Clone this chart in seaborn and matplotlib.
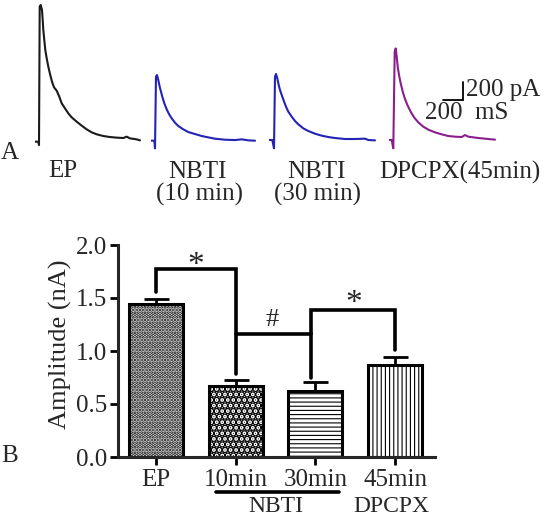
import numpy as np
import pandas as pd
import seaborn as sns
import matplotlib.pyplot as plt

# ---------------- Panel B : mean amplitude (nA) ----------------
conditions = ["EP", "10min", "30min", "45min"]
amplitude = [1.44, 0.67, 0.625, 0.87]
sem = [0.05, 0.06, 0.08, 0.075]
hatches = [".....", "...", "----", "||||"]
hatch_lw = [1.8, 3.6, 0.8, 0.8]

# ---------------- Panel A : example currents (ms, pA) ----------------
ep_t = [0, 33, 40, 47, 57, 70, 77, 83, 93, 103, 117, 133, 150, 170, 190, 217, 243, 267,
        300, 333, 367, 417, 467, 517, 567, 617, 683, 750, 817, 883, 917, 950, 1017, 1050]
ep_i = [0, 0, -37, 1499, 1517, 1462, 1351, 1240, 1129, 1018, 925, 833, 752, 666, 604, 566,
        500, 426, 370, 315, 270, 222, 178, 137, 104, 82, 63, 52, 45, 41, 56, 37, 26, 15]

nbti10_t = [0, 33, 40, 50, 60, 73, 87, 100, 113, 133, 157, 180, 207, 240, 273, 323, 373,
            440, 507, 573, 640, 740, 840, 907, 973, 1040]
nbti10_i = [0, 0, -85, 711, 729, 674, 600, 544, 489, 415, 348, 296, 248, 200, 163, 126, 96,
            74, 52, 37, 22, 11, 7, 15, 4, 0]

nbti30_t = [0, 33, 50, 60, 70, 83, 97, 110, 127, 147, 170, 193, 227, 260, 293, 343, 393,
            460, 527, 593, 660, 760, 860, 960, 993, 1060]
nbti30_i = [0, 0, -92, 703, 733, 685, 611, 555, 500, 437, 370, 315, 259, 211, 174, 129, 100,
            70, 48, 33, 22, 11, 11, 15, 0, -4]

dpcpx_t = [0, 27, 43, 57, 67, 77, 87, 100, 117, 137, 160, 187, 217, 253, 293, 343, 393,
           460, 527, 593, 660, 727, 760, 793, 893, 993, 1060]
dpcpx_i = [0, 0, -92, 980, 1017, 925, 814, 722, 629, 537, 455, 381, 314, 248, 196, 148, 115,
           85, 63, 44, 37, 33, 55, 37, 22, 11, 4]

traces = [(ep_t, ep_i, "#1a1a1a"),
          (nbti10_t, nbti10_i, "#2323b8"),
          (nbti30_t, nbti30_i, "#2323b8"),
          (dpcpx_t, dpcpx_i, "#8a1e8c")]

sns.set_theme(style="ticks")
plt.rcParams["font.family"] = ["Liberation Serif", "DejaVu Serif"]

W, H = 550, 532
fig = plt.figure(figsize=(W / 100, H / 100), dpi=100)


def fx(x):
    return x / W


def fy(y):
    return 1 - y / H


# trace layout (pixels)
trace_left = [35, 151, 269, 389]
trace_base = [141.7, 140.7, 140, 140]
ms_px, pa_px = 10.0, 11.1
t_lim, i_lim = (0, 1100), (-150, 1560)

trace_axes = []
for (t, i, c), left, base in zip(traces, trace_left, trace_base):
    h = (i_lim[1] - i_lim[0]) / pa_px
    w = (t_lim[1] - t_lim[0]) / ms_px
    bottom = base - i_lim[0] / pa_px
    a = fig.add_axes([fx(left), fy(bottom), w / W, h / H])
    sns.lineplot(x=t, y=i, ax=a, color=c, lw=1.5, sort=False)
    a.set_xlim(t_lim)
    a.set_ylim(i_lim)
    a.axis("off")
    trace_axes.append(a)

# scale bar: 200 ms x 200 pA
sb = trace_axes[-1]
sb.plot([540, 740], [444, 444], color="black", lw=1.3)
sb.plot([740, 740], [444, 644], color="black", lw=1.3)

fs_a = 18
fig.text(fx(466), fy(90), "200 pA", fontsize=fs_a, ha="left", va="center")
fig.text(fx(467), fy(113), "200  mS", fontsize=fs_a, ha="center", va="center")
fig.text(fx(10), fy(153), "A", fontsize=fs_a, ha="center", va="center")
fig.text(fx(63), fy(171), "EP", fontsize=fs_a, ha="center", va="center")
fig.text(fx(197), fy(172), "NBTI", fontsize=fs_a, ha="center", va="center")
fig.text(fx(200), fy(194), "(10 min)", fontsize=fs_a, ha="center", va="center")
fig.text(fx(316), fy(172), "NBTI", fontsize=fs_a, ha="center", va="center")
fig.text(fx(318), fy(194), "(30 min)", fontsize=fs_a, ha="center", va="center")
fig.text(fx(460), fy(172), "DPCPX(45min)", fontsize=fs_a, ha="center", va="center")
fig.text(fx(10), fy(456), "B", fontsize=fs_a, ha="center", va="center")

# ---------------- bar chart ----------------
ax_l, ax_r, ax_t, ax_b = 118, 435, 245, 457
ax = fig.add_axes([fx(ax_l), fy(ax_b), (ax_r - ax_l) / W, (ax_b - ax_t) / H])
df = pd.DataFrame({"condition": conditions, "amplitude": amplitude})
sns.barplot(data=df, x="condition", y="amplitude", color="white",
            edgecolor="black", linewidth=2.2, width=0.68, errorbar=None,
            saturation=1, ax=ax)
for patch, hatch, hl in zip(ax.patches, hatches, hatch_lw):
    patch.set_hatch(hatch)
    patch.set_facecolor("white")
    if hasattr(patch, "set_hatch_linewidth"):
        patch.set_hatch_linewidth(hl)
    else:
        patch._hatch_linewidth = hl

xpos = np.arange(len(conditions))
ax.errorbar(xpos, amplitude, yerr=[np.zeros(len(sem)), sem], fmt="none",
            ecolor="black", elinewidth=2, capsize=9, capthick=2, zorder=1)

ax.set_xlim(-0.475, 3.5)
ax.set_ylim(0, 2.0)
ax.set_yticks([0, 0.5, 1.0, 1.5, 2.0])
ax.set_yticklabels(["0.0", "0.5", "1.0", "1.5", "2.0"])
ax.set_xlabel("")
ax.set_ylabel("Amplitude (nA)", fontsize=19)
ax.yaxis.set_label_coords(-0.145, 0.53)
sns.despine(ax=ax)
for s in ["left", "bottom"]:
    ax.spines[s].set_linewidth(2.2)
ax.tick_params(axis="both", labelsize=18, width=2, length=6, pad=2, color="black")
ax.tick_params(axis="x", pad=3)

# significance brackets
kw = dict(color="black", lw=2.6, clip_on=False, solid_joinstyle="miter")
ax.plot([0, 0, 1, 1], [1.56, 1.77, 1.77, 0.78], **kw)
ax.plot([1, 1.95, 1.95], [1.16, 1.16, 0.745], **kw)
ax.plot([1.95, 1.95, 3, 3], [1.16, 1.387, 1.387, 1.01], **kw)
ax.text(0.5, 1.80, "*", fontsize=24, ha="center", va="center")
ax.text(1.46, 1.29, "#", fontsize=19, ha="center", va="center")
ax.text(2.475, 1.45, "*", fontsize=24, ha="center", va="center")

# group labels under the axis
ax.plot([0.75, 2.3], [-0.327, -0.327], color="black", lw=2.6, clip_on=False)
ax.text(1.5, -0.47, "NBTI", fontsize=17, ha="center", va="center")
ax.text(2.95, -0.47, "DPCPX", fontsize=17, ha="center", va="center")

fig.savefig("out.png", dpi=100)
